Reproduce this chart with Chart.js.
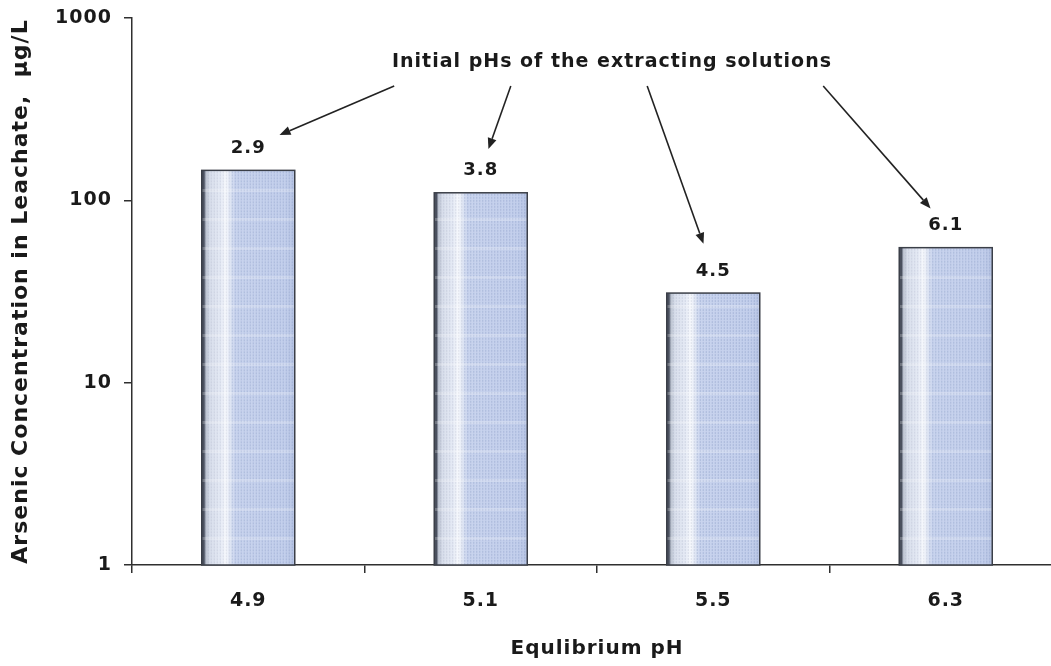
<!DOCTYPE html>
<html>
<head>
<meta charset="utf-8">
<script src="https://cdn.jsdelivr.net/npm/chart.js@4.4.1/dist/chart.umd.min.js"></script>
<style>
  html, body { margin: 0; padding: 0; width: 1051px; height: 666px; overflow: hidden; background: #fff; }
  #wrap { width: 1064px; height: 666px; }
</style>
</head>
<body>
<div id="wrap"><canvas id="c" width="1064" height="666"></canvas></div>
<script>
// Equilibrium pH of each leachate (x categories)
const equilibriumPH = ['4.9', '5.1', '5.5', '6.3'];
// Arsenic concentration in the leachate, µg/L
const arsenicUgL = [146, 110, 31, 55];
// Initial pH of the extracting solution, written above each bar
const initialPH = ['2.9', '3.8', '4.5', '6.1'];
// Decade ticks on the log axis
const yTickValues = [1, 10, 100, 1000];
const noteText = 'Initial pHs of the extracting solutions';

const FONT = "'DejaVu Sans', 'Liberation Sans', Arial, sans-serif";
const INK = '#1a1a1a';
const AXIS = '#2f2f2f';
const LETTER_SPACING = '1px';

Chart.defaults.font.family = FONT;
Chart.defaults.font.weight = 'bold';
Chart.defaults.color = INK;

// wide lettering for every text item on the canvas
const letterSpacing = {
  id: 'letterSpacing',
  beforeUpdate(chart) { chart.ctx.letterSpacing = LETTER_SPACING; },
  beforeDraw(chart) { chart.ctx.letterSpacing = LETTER_SPACING; }
};

// striped, two-tone fill for each bar
const barTexture = {
  id: 'barTexture',
  afterDatasetsDraw(chart) {
    const ctx = chart.ctx;
    const meta = chart.getDatasetMeta(0);
    meta.data.forEach((bar) => {
      const { x, y, base, width } = bar.getProps(['x', 'y', 'base', 'width'], true);
      const l = x - width / 2, r = x + width / 2, t = y, b = base;
      const w = r - l, h = b - t;
      ctx.save();
      ctx.beginPath(); ctx.rect(l, t, w, h); ctx.clip();
      const g = ctx.createLinearGradient(l, 0, r, 0);
      g.addColorStop(0, '#4a505e');
      g.addColorStop(0.025, '#4a505e');
      g.addColorStop(0.045, '#bcc3d0');
      g.addColorStop(0.09, '#d9dfec');
      g.addColorStop(0.2, '#e5eaf5');
      g.addColorStop(0.26, '#f7f9fd');
      g.addColorStop(0.3, '#e2e8f5');
      g.addColorStop(0.36, '#c9d4ee');
      g.addColorStop(0.9, '#c3cfec');
      g.addColorStop(1, '#b8c5e4');
      ctx.fillStyle = g;
      ctx.fillRect(l, t, w, h);
      for (let xx = l + 3; xx < r - 1; xx += 3) {
        const f = (xx - l) / w;
        ctx.fillStyle = f < 0.3 ? 'rgba(120,130,160,0.2)' : 'rgba(95,115,170,0.28)';
        for (let yy = t + 1; yy < b; yy += 3) ctx.fillRect(xx, yy, 1, 2);
      }
      ctx.fillStyle = 'rgba(255,255,255,0.22)';
      for (let yy = b - 28; yy > t; yy -= 29) ctx.fillRect(l, yy, w, 3);
      ctx.restore();
      ctx.save();
      ctx.strokeStyle = '#3b3f48';
      ctx.lineWidth = 1.5;
      ctx.strokeRect(l, t, w, h);
      ctx.restore();
    });
  }
};

function drawArrow(ctx, x0, y0, x1, y1) {
  const a = Math.atan2(y1 - y0, x1 - x0);
  const L = 11, W = 4.5;
  const bx = x1 - L * Math.cos(a), by = y1 - L * Math.sin(a);
  ctx.beginPath(); ctx.moveTo(x0, y0); ctx.lineTo(bx, by); ctx.stroke();
  ctx.beginPath();
  ctx.moveTo(x1, y1);
  ctx.lineTo(bx + W * Math.sin(a), by - W * Math.cos(a));
  ctx.lineTo(bx - W * Math.sin(a), by + W * Math.cos(a));
  ctx.closePath(); ctx.fill();
}

// initial-pH labels over the bars, plus the note with its arrows
const annotations = {
  id: 'annotations',
  afterDatasetsDraw(chart) {
    const ctx = chart.ctx;
    const area = chart.chartArea;
    const meta = chart.getDatasetMeta(0);
    ctx.save();
    ctx.letterSpacing = LETTER_SPACING;
    ctx.font = 'bold 18px ' + FONT;
    ctx.fillStyle = INK;
    ctx.textAlign = 'center';
    ctx.textBaseline = 'middle';
    const labelPos = meta.data.map((bar, i) => {
      const p = { x: bar.x, y: bar.y - 22 };
      ctx.fillText(initialPH[i], p.x, p.y);
      return p;
    });

    ctx.font = 'bold 19px ' + FONT;
    const noteX = area.left + 480, noteY = area.top + 44;
    ctx.fillText(noteText, noteX, noteY);
    const tw = ctx.measureText(noteText).width;
    const tailFrac = [0.005, 0.27, 0.58, 0.98];
    const gaps = [34, 23, 29, 23];
    ctx.strokeStyle = '#222';
    ctx.fillStyle = '#222';
    ctx.lineWidth = 1.6;
    labelPos.forEach((p, i) => {
      const x0 = noteX - tw / 2 + tailFrac[i] * tw, y0 = noteY + 24;
      const dx = p.x - x0, dy = p.y - y0, d = Math.hypot(dx, dy);
      const x1 = p.x - dx / d * gaps[i], y1 = p.y - dy / d * gaps[i];
      drawArrow(ctx, x0, y0, x1, y1);
    });
    ctx.restore();
  }
};

new Chart(document.getElementById('c'), {
  type: 'bar',
  data: {
    labels: equilibriumPH,
    datasets: [{
      data: arsenicUgL,
      backgroundColor: '#c4d0ec',
      borderWidth: 0,
      barPercentage: 0.4,
      categoryPercentage: 1.0
    }]
  },
  options: {
    responsive: false,
    animation: false,
    devicePixelRatio: 1,
    layout: { padding: { top: 18, right: 2, left: 0, bottom: 0 } },
    plugins: { legend: { display: false }, tooltip: { enabled: false } },
    scales: {
      x: {
        type: 'category',
        offset: true,
        grid: { offset: true, drawOnChartArea: false, drawTicks: true, tickLength: 8, color: AXIS, lineWidth: 1.5 },
        border: { display: true, color: AXIS, width: 1.5 },
        ticks: { padding: 17, font: { size: 19, weight: 'bold' }, color: INK },
        title: { display: true, text: 'Equlibrium pH', color: INK, font: { size: 20, weight: 'bold' }, padding: { top: 0, bottom: 5 } },
        afterFit(s) { s.height = 101; s.paddingLeft = 0; s.paddingRight = 0; }
      },
      y: {
        type: 'logarithmic',
        min: 1,
        max: 1000,
        afterBuildTicks(s) { s.ticks = yTickValues.map(v => ({ value: v, major: true })); },
        ticks: { padding: 12, autoSkip: false, font: { size: 19, weight: 'bold' }, color: INK, callback: v => String(v) },
        grid: { drawOnChartArea: false, drawTicks: true, tickLength: 8, color: AXIS, lineWidth: 1.5 },
        border: { display: true, color: AXIS, width: 1.5 },
        title: { display: true, text: 'Arsenic Concentration in Leachate,  µg/L', color: INK, font: { size: 22, weight: 'bold' }, padding: { top: 8, bottom: 0 } },
        afterFit(s) { s.width = 132; s.paddingTop = 0; s.paddingBottom = 0; }
      }
    }
  },
  plugins: [letterSpacing, barTexture, annotations]
});
</script>
</body>
</html>
